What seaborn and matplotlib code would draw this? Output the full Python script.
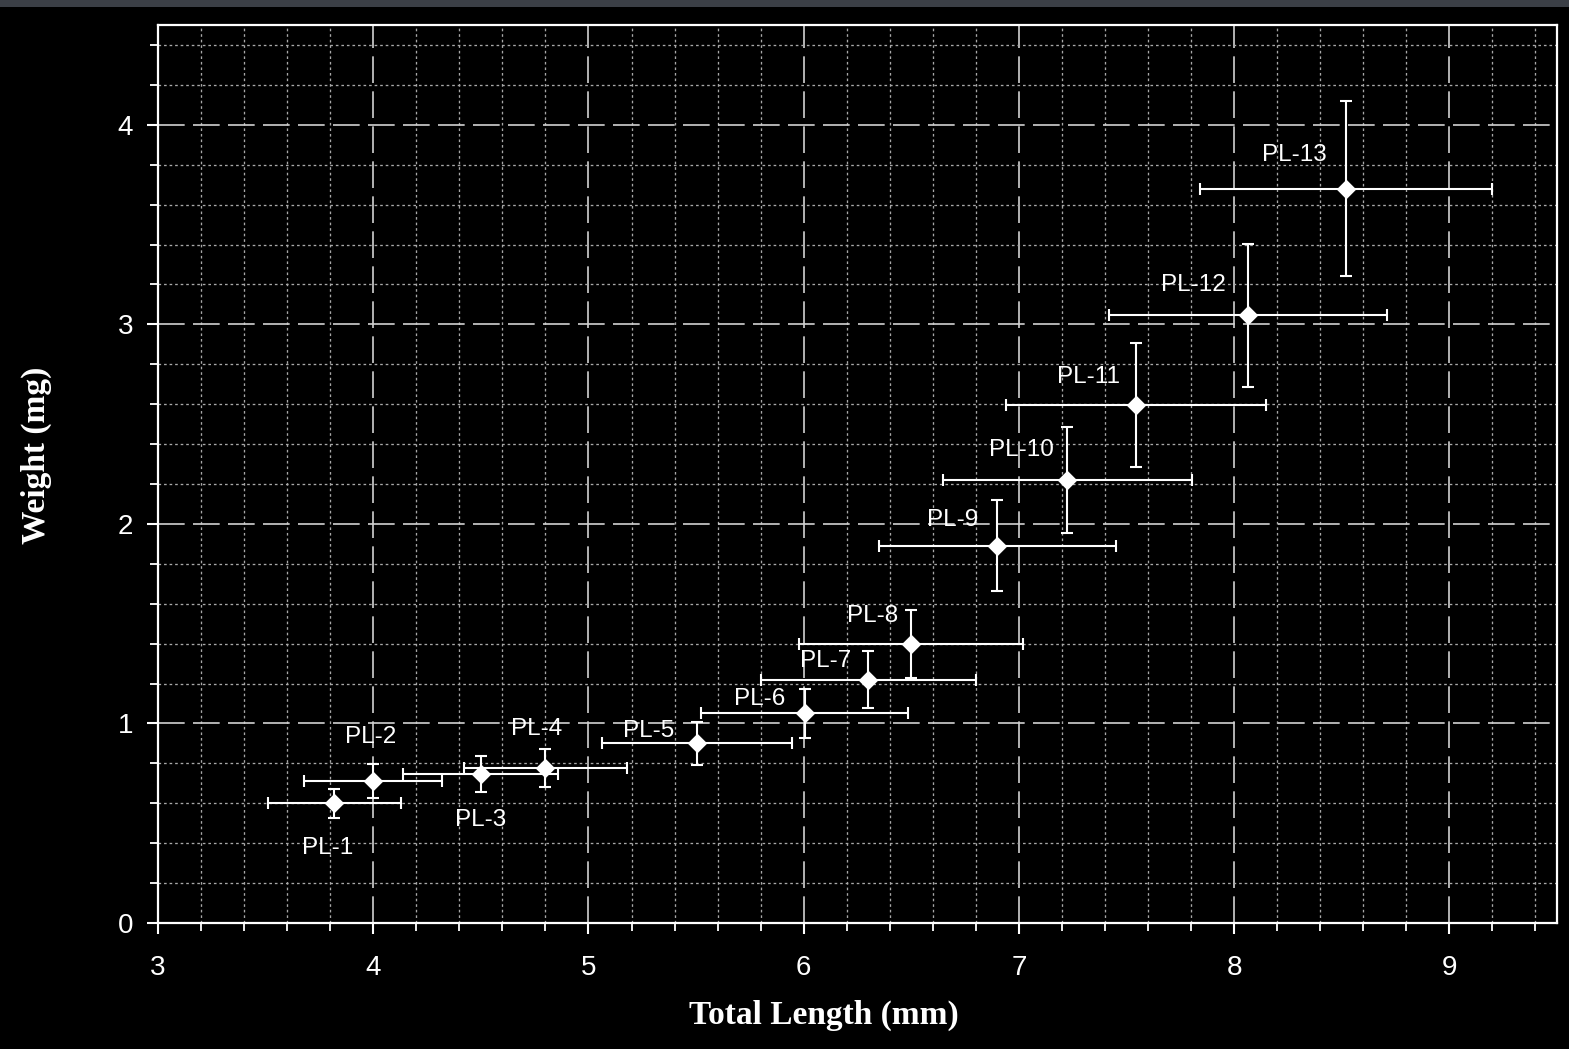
import matplotlib
matplotlib.use("Agg")
import matplotlib.pyplot as plt
import seaborn as sns
import pandas as pd
from matplotlib.ticker import MultipleLocator
from matplotlib.patches import Rectangle

# ---- data ----
stages = ["PL-1", "PL-2", "PL-3", "PL-4", "PL-5", "PL-6", "PL-7",
          "PL-8", "PL-9", "PL-10", "PL-11", "PL-12", "PL-13"]
total_length = [3.82, 4.00, 4.50, 4.80, 5.505, 6.005, 6.30, 6.50, 6.90, 7.225, 7.545, 8.065, 8.52]
weight = [0.60, 0.71, 0.745, 0.775, 0.90, 1.05, 1.22, 1.40, 1.89, 2.22, 2.595, 3.045, 3.68]
length_sd = [0.31, 0.32, 0.36, 0.38, 0.44, 0.48, 0.50, 0.52, 0.55, 0.577, 0.604, 0.646, 0.68]
weight_sd = [0.073, 0.085, 0.09, 0.095, 0.107, 0.125, 0.144, 0.17, 0.228, 0.265, 0.31, 0.36, 0.44]

# label offsets in pixels (styling)
label_offsets = [(-7, -45), (-3, 44), (0, -46), (-9, 39), (-49, 12), (-45, 14), (-43, 19),
                 (-39, 28), (-45, 26), (-46, 30), (-48, 28), (-55, 30), (-52, 34)]

df = pd.DataFrame({"stage": stages, "length": total_length, "weight": weight,
                   "length_sd": length_sd, "weight_sd": weight_sd})

sns.set_style("ticks")
plt.rcParams["font.family"] = ["Liberation Sans", "DejaVu Sans"]

W, H = 1569, 1049
fig = plt.figure(figsize=(W / 100, H / 100), dpi=100, facecolor="black")
ax = fig.add_axes([158 / W, 1 - 923 / H, (1557 - 158) / W, (923 - 25) / H])
ax.set_facecolor("black")

# top grey strip of the screenshot
fig.patches.append(Rectangle((0, 1 - 7 / H), 1, 7 / H, transform=fig.transFigure,
                             facecolor="#3b3f46", edgecolor="none", zorder=0))

ax.set_xlim(3, 9.5)
ax.set_ylim(0, 4.5)
ax.xaxis.set_major_locator(MultipleLocator(1))
ax.xaxis.set_minor_locator(MultipleLocator(0.2))
ax.yaxis.set_major_locator(MultipleLocator(1))
ax.yaxis.set_minor_locator(MultipleLocator(0.2))

ax.grid(which="major", color="#d2d2d2", linestyle=(0, (16, 5)), linewidth=1.2)
ax.grid(which="minor", color="#a8a8a8", linestyle=(0, (2, 2.2)), linewidth=0.95)
ax.set_axisbelow(True)

for s in ax.spines.values():
    s.set_color("white")
    s.set_linewidth(1.6)

ax.tick_params(which="major", direction="out", length=8, width=1.5, colors="white",
               labelsize=20, labelcolor="white")
ax.tick_params(which="minor", direction="out", length=5.5, width=1.3, colors="white")
ax.tick_params(axis="x", which="major", pad=15)
ax.tick_params(axis="y", which="major", pad=10)

# error bars
ax.errorbar(df["length"], df["weight"], xerr=df["length_sd"], yerr=df["weight_sd"],
            fmt="none", ecolor="white", elinewidth=1.5, capsize=4, capthick=1.5, zorder=3)

# points
sns.scatterplot(data=df, x="length", y="weight", marker="D", s=100, color="white",
                edgecolor="white", linewidth=0, ax=ax, zorder=4)

for name, x, y, off in zip(stages, total_length, weight, label_offsets):
    ax.annotate(name, (x, y), xytext=off, textcoords="offset pixels",
                ha="center", va="center", color="white", fontsize=17.5,
                family=["Liberation Sans", "DejaVu Sans"])

ax.set_xlabel("Total Length (mm)", color="white", fontsize=24, fontweight="bold",
              family=["Liberation Serif", "DejaVu Serif"])
ax.set_ylabel("Weight (mg)", color="white", fontsize=24, fontweight="bold",
              family=["Liberation Serif", "DejaVu Serif"])
ax.xaxis.set_label_coords(0.476, -0.085)
ax.yaxis.set_label_coords(-0.076, 0.521)

fig.savefig("out.png", dpi=100, facecolor="black")
